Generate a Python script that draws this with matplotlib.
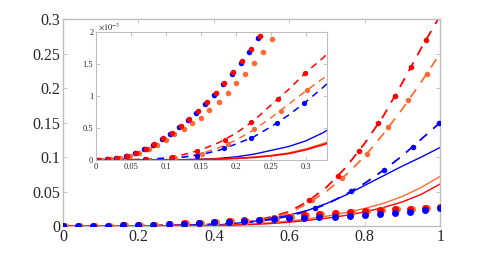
import matplotlib
matplotlib.use('Agg')
import matplotlib.pyplot as plt

# colours
BLUE = '#0000ff'
RED = '#ff0000'
ORANGE = '#ff6a33'
GRID = '#bdbdbd'

# curves (dashed / solid), sampled on x_line
x_line = [0, .025, .05, .075, .1, .125, .15, .175, .2, .225, .25, .275, .3, .325, .35,
          .4, .45, .5, .55, .6, .65, .7, .75, .8, .85, .9, .95, 1.0]
red_dash = [0, 1e-6, 4e-6, 1.2e-5, 3.5e-5, 8.5e-5, 1.6e-4, 2.7e-4, 4.2e-4, 6.1e-4, 8.6e-4,
            1.1e-3, 1.37e-3, 1.6e-3, 1.9e-3,
            0.0026, 0.0042, 0.0068, 0.013, 0.021, 0.036, 0.057, 0.085, 0.12, 0.16, 0.208, 0.258, 0.305]
orange_dash = [0, 1e-6, 3e-6, 8e-6, 2.2e-5, 5e-5, 1e-4, 1.9e-4, 3.1e-4, 4.7e-4, 6.6e-4,
               8.7e-4, 1.08e-3, 1.28e-3, 1.5e-3,
               0.0021, 0.0036, 0.006, 0.011, 0.019, 0.033, 0.051, 0.074, 0.101, 0.134, 0.17, 0.209, 0.25]
blue_dash = [0, 2e-6, 5e-6, 1.1e-5, 2.4e-5, 4.5e-5, 8.5e-5, 1.5e-4, 2.5e-4, 3.6e-4, 5.2e-4,
             7e-4, 9.1e-4, 1.14e-3, 1.4e-3,
             0.0022, 0.0037, 0.006, 0.0095, 0.0145, 0.022, 0.032, 0.046, 0.062, 0.081, 0.102, 0.126, 0.15]
blue_solid = [0, 0, 5e-7, 1e-6, 3e-6, 6e-6, 1.2e-5, 2.5e-5, 5e-5, 9e-5, 1.5e-4,
              2.1e-4, 3e-4, 4.3e-4, 6e-4,
              0.0012, 0.0035, 0.0065, 0.01, 0.016, 0.023, 0.033, 0.045, 0.059, 0.073, 0.087, 0.1, 0.114]
red_solid = [0, 0, 0, 0, 1e-6, 3e-6, 7e-6, 1.3e-5, 2.5e-5, 4e-5, 6.5e-5,
             1e-4, 1.6e-4, 2.4e-4, 3.3e-4,
             0.0006, 0.0012, 0.0022, 0.0036, 0.0056, 0.0083, 0.0115, 0.0155, 0.0205, 0.027, 0.035, 0.046, 0.061]
orange_solid = [0, 0, 0, 0, 1e-6, 3e-6, 8e-6, 1.5e-5, 2.8e-5, 4.5e-5, 7.2e-5,
                1.1e-4, 1.75e-4, 2.6e-4, 3.6e-4,
                0.0008, 0.0016, 0.0029, 0.0048, 0.0073, 0.0105, 0.0145, 0.0195, 0.0255, 0.033, 0.043, 0.056, 0.072]

# main plot: slowly growing dots
x_dots = [0, .04, .08, .12, .16, .2, .24, .28, .32, .36, .4, .44, .48, .52, .56, .6,
          .64, .68, .72, .76, .8, .84, .88, .92, .96, 1.0]
x_dots_orange = [.005, .045, .085, .125, .165, .205, .245, .285, .325, .365, .405, .445, .485,
                 .525, .565, .605, .645, .685, .725, .765, .805, .845, .885, .925, .965, 1.004]
blue_dots = [0, 5e-5, 2e-4, 5e-4, 9e-4, 0.0014, 0.0021, 0.0029, 0.0037, 0.0046, 0.0054, 0.0063,
             0.0072, 0.0082, 0.0096, 0.011, 0.012, 0.0128, 0.0135, 0.0145, 0.016, 0.0174,
             0.0193, 0.0207, 0.0232, 0.0265]
red_dots = [0, 5e-5, 2e-4, 5e-4, 9e-4, 0.0015, 0.0022, 0.003, 0.0039, 0.0049, 0.0059, 0.007,
            0.0081, 0.0093, 0.011, 0.0132, 0.016, 0.018, 0.0193, 0.0203, 0.0217, 0.0232,
            0.0242, 0.0252, 0.0265, 0.028]
orange_dots = [0, 5e-5, 2e-4, 5e-4, 9e-4, 0.0015, 0.0022, 0.003, 0.0038, 0.0048, 0.0058, 0.0069,
               0.008, 0.0092, 0.0108, 0.013, 0.0157, 0.0178, 0.0191, 0.0202, 0.0216, 0.0231,
               0.0242, 0.0252, 0.0266, 0.0282]

# main plot: markers along the dashed curves
red_mk_x = [0.653, 0.728, 0.785, 0.836, 0.88, 0.922, 0.962]
red_mk_y = [0.0377, 0.0725, 0.109, 0.149, 0.188, 0.23, 0.27]
orange_mk_x = [0.661, 0.741, 0.807, 0.863, 0.916, 0.966]
orange_mk_y = [0.0377, 0.069, 0.105, 0.144, 0.183, 0.221]
blue_mk_x = [0.668, 0.764, 0.85, 0.927, 0.998]
blue_mk_y = [0.0256, 0.0507, 0.081, 0.115, 0.149]

# inset: finer sampled dots (units of 1e-3)
ins_x = [0.004, 0.017, 0.030, 0.044, 0.057, 0.071, 0.083, 0.096, 0.108, 0.121, 0.133,
         0.145, 0.158, 0.171, 0.183, 0.196, 0.209, 0.221, 0.234, 0.247]
ins_x_blue = [0.002, 0.015, 0.028, 0.042, 0.055, 0.069, 0.081, 0.094, 0.106, 0.119, 0.131,
              0.143, 0.156, 0.169, 0.181, 0.194, 0.207, 0.219, 0.232, 0.245]
ins_red = [0, 0.016, 0.036, 0.067, 0.114, 0.177, 0.25, 0.34, 0.427, 0.53, 0.64, 0.76,
           0.906, 1.04, 1.21, 1.37, 1.55, 1.73, 1.94, 2.15]
ins_blue = [0, 0.015, 0.034, 0.064, 0.109, 0.170, 0.24, 0.33, 0.413, 0.515, 0.62, 0.74,
            0.88, 1.01, 1.18, 1.34, 1.51, 1.69, 1.90, 2.1]
ins_x_orange = [0.008, 0.021, 0.034, 0.048, 0.061, 0.075, 0.087, 0.1, 0.112, 0.125, 0.137,
                0.15, 0.162, 0.175, 0.188, 0.2, 0.213, 0.225, 0.238, 0.251, 0.264]
ins_orange = [0.004, 0.02, 0.038, 0.068, 0.11, 0.17, 0.235, 0.32, 0.40, 0.49, 0.58,
              0.66, 0.78, 0.91, 1.05, 1.2, 1.34, 1.51, 1.69, 1.89, 2.1]

# inset: markers along the dashed curves (units of 1e-3)
ins_red_mk_x = [0.0, 0.036, 0.072, 0.108, 0.144, 0.184, 0.222, 0.26, 0.299]
ins_red_mk_y = [0, 0.002, 0.012, 0.045, 0.14, 0.31, 0.59, 0.95, 1.36]
ins_orange_mk_x = [0.003, 0.04, 0.076, 0.113, 0.151, 0.188, 0.226, 0.264, 0.302]
ins_orange_mk_y = [0, 0.002, 0.008, 0.035, 0.1, 0.25, 0.48, 0.77, 1.09]
ins_blue_mk_x = [0.0, 0.035, 0.07, 0.108, 0.144, 0.183, 0.221, 0.259, 0.297]
ins_blue_mk_y = [0, 0.003, 0.01, 0.03, 0.07, 0.18, 0.34, 0.58, 0.89]

main_xticks = [0, 0.2, 0.4, 0.6, 0.8, 1.0]
main_xlabels = ['0', '0.2', '0.4', '0.6', '0.8', '1']
main_yticks = [0, 0.05, 0.1, 0.15, 0.2, 0.25, 0.3]
main_ylabels = ['0', '0.05', '0.1', '0.15', '0.2', '0.25', '0.3']
ins_xticks = [0, 0.05, 0.1, 0.15, 0.2, 0.25, 0.3]
ins_xlabels = ['0', '0.05', '0.1', '0.15', '0.2', '0.25', '0.3']
ins_yticks = [0, 0.5, 1, 1.5, 2]
ins_ylabels = ['0', '0.5', '1', '1.5', '2']

plt.rcParams['font.family'] = ['Liberation Serif', 'DejaVu Serif']
plt.rcParams['mathtext.fontset'] = 'stix'

DASH_MAIN = (0, (5.5, 4.5))
DASH_INSET = (0, (4.5, 3.5))


def style_axes(ax, size, width):
    for s in ax.spines.values():
        s.set_color(GRID)
        s.set_linewidth(width)
    ax.tick_params(direction='in', top=True, right=True, color=GRID,
                   labelcolor='#262626', labelsize=size, width=0.6, length=3, pad=2)


def main():
    fig = plt.figure(figsize=(4.88, 2.54), dpi=100)
    ax = fig.add_axes([0.129, 0.110, 0.773, 0.815])

    # lines
    ax.plot(x_line, red_dash, color=RED, lw=1.3, ls=DASH_MAIN, zorder=2)
    ax.plot(x_line, orange_dash, color=ORANGE, lw=1.3, ls=DASH_MAIN, zorder=2)
    ax.plot(x_line, blue_dash, color=BLUE, lw=1.3, ls=DASH_MAIN, zorder=2)
    ax.plot(x_line, blue_solid, color=BLUE, lw=1.0, zorder=2)
    ax.plot(x_line, orange_solid, color=ORANGE, lw=1.0, zorder=2)
    ax.plot(x_line, red_solid, color=RED, lw=1.0, zorder=2)

    # markers on dashed curves
    ax.plot(orange_mk_x, orange_mk_y, 'o', color=ORANGE, ms=4, mec='none', zorder=3)
    ax.plot(red_mk_x, red_mk_y, 'o', color=RED, ms=4, mec='none', zorder=3)
    ax.plot(blue_mk_x, blue_mk_y, 'o', color=BLUE, ms=4, mec='none', zorder=3)

    # slowly growing dots
    ax.plot(x_dots_orange, orange_dots, 'o', color=ORANGE, ms=5, mec='none', zorder=3)
    ax.plot(x_dots, red_dots, 'o', color=RED, ms=5, mec='none', zorder=3)
    ax.plot(x_dots, blue_dots, 'o', color=BLUE, ms=5, mec='none', zorder=4)

    ax.set_xlim(0, 1)
    ax.set_ylim(0, 0.3)
    ax.set_xticks(main_xticks, main_xlabels)
    ax.set_yticks(main_yticks, main_ylabels)
    style_axes(ax, 11.5, 1.0)

    # inset
    ins = fig.add_axes([0.197, 0.370, 0.473, 0.504])
    s = 1e3
    ins.plot(x_line, [v * s for v in red_dash], color=RED, lw=1.1, ls=DASH_INSET)
    ins.plot(x_line, [v * s for v in orange_dash], color=ORANGE, lw=1.1, ls=DASH_INSET)
    ins.plot(x_line, [v * s for v in blue_dash], color=BLUE, lw=1.1, ls=DASH_INSET)
    ins.plot(x_line, [v * s for v in blue_solid], color=BLUE, lw=1.0)
    ins.plot(x_line, [v * s for v in orange_solid], color=ORANGE, lw=1.0)
    ins.plot(x_line, [v * s for v in red_solid], color=RED, lw=1.2)

    ins.plot(ins_orange_mk_x, ins_orange_mk_y, 'o', color=ORANGE, ms=3.8, mec='none')
    ins.plot(ins_blue_mk_x, ins_blue_mk_y, 'o', color=BLUE, ms=3.8, mec='none')
    ins.plot(ins_red_mk_x, ins_red_mk_y, 'o', color=RED, ms=3.8, mec='none')

    ins.plot(ins_x_orange, ins_orange, 'o', color=ORANGE, ms=4, mec='none')
    ins.plot(ins_x_blue, ins_blue, 'o', color=BLUE, ms=4, mec='none')
    ins.plot(ins_x, ins_red, 'o', color=RED, ms=4, mec='none')

    ins.set_xlim(0, 0.33)
    ins.set_ylim(0, 2)
    ins.set_xticks(ins_xticks, ins_xlabels)
    ins.set_yticks(ins_yticks, ins_ylabels)
    style_axes(ins, 6, 0.8)
    ins.text(0.01, 1.0, r'$\times10^{-3}$', transform=ins.transAxes,
             fontsize=6, color='#262626', va='bottom', ha='left')

    fig.savefig('out.png', dpi=100)


if __name__ == '__main__':
    main()
